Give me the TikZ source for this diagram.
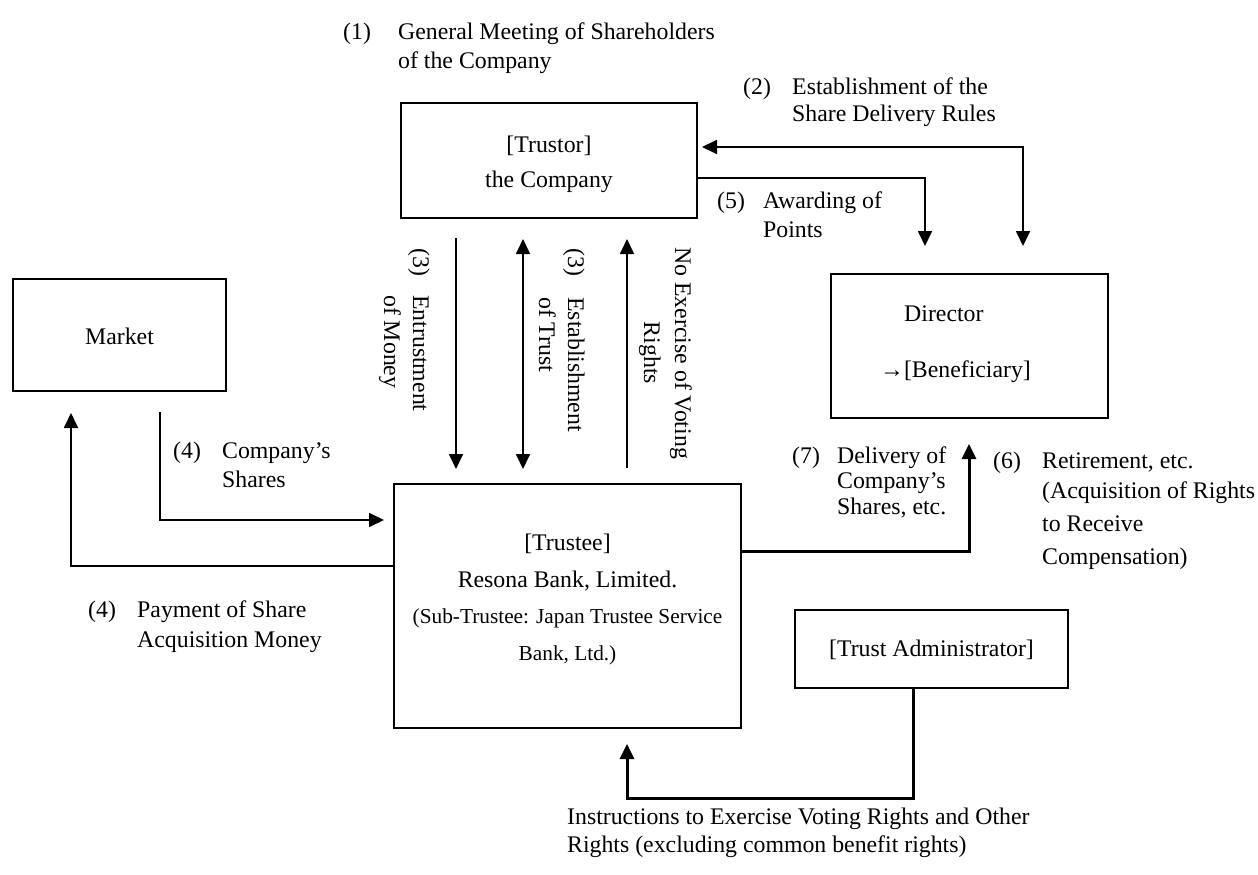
\documentclass[tikz,border=0pt]{standalone}
\usepackage{fontspec}
\setmainfont{Liberation Serif}
\usetikzlibrary{arrows.meta}
\begin{document}
\begin{tikzpicture}[x=1pt,y=-1pt,
  font=\fontsize{23.8}{28}\selectfont,
  box/.style={draw, line width=2pt, inner sep=0pt},
  txt/.style={inner sep=0pt, anchor=base west},
  ctxt/.style={inner sep=0pt, anchor=base},
  smalltxt/.style={inner sep=0pt, anchor=base, font=\fontsize{21.3}{25}\selectfont},
  tipA/.tip={Triangle[length=15pt,width=14pt]},
  conn/.style={line width=1.8pt},
  thickconn/.style={line width=3pt},
  endtip/.style={-tipA},
  bothtip/.style={tipA-tipA}
]
\useasboundingbox (0,0) rectangle (1258,875);

% boxes
\node[box, minimum width=296pt, minimum height=115pt] (trustor) at (549,160.5) {};
\node[box, minimum width=213pt, minimum height=112pt] (market) at (119.5,335) {};
\node[box, minimum width=277pt, minimum height=144pt] (director) at (969.5,346) {};
\node[box, minimum width=347pt, minimum height=244pt] (trustee) at (567.5,606) {};
\node[box, minimum width=273pt, minimum height=78pt] (admin) at (931.5,649) {};

% box texts
\node[ctxt] (trA) at (549,152) {[Trustor]};
\node[ctxt] (trB) at (549,187) {the Company};
\node[ctxt] (mk) at (119.5,344) {Market};
\node[txt] (dirA) at (904,321) {Director};
\node[txt] (dirB) at (880,377) {→[Beneficiary]};
\node[ctxt] (teA) at (567.5,550) {[Trustee]};
\node[ctxt] (teB) at (567.5,587) {Resona Bank, Limited.};
\node[smalltxt] (teC) at (567.5,623) {(Sub-Trustee: Japan Trustee Service};
\node[smalltxt] (teD) at (567.5,660) {Bank, Ltd.)};
\node[ctxt] (adm) at (931.5,656) {[Trust Administrator]};

% labels
\node[txt] (l1a) at (343,40) {(1)};
\node[txt] (l1b) at (398,40) {General Meeting of Shareholders};
\node[txt] (l1c) at (398,68) {of the Company};

\node[txt] (l2a) at (743,95) {(2)};
\node[txt] (l2b) at (792,95) {Establishment of the};
\node[txt] (l2c) at (792,121) {Share Delivery Rules};

\node[txt] (l5a) at (717,208) {(5)};
\node[txt] (l5b) at (763,208) {Awarding of};
\node[txt] (l5c) at (763,237) {Points};

\node[txt] (l4a) at (173,458) {(4)};
\node[txt] (l4b) at (222,458) {Company’s};
\node[txt] (l4c) at (222,487) {Shares};

\node[txt] (p4a) at (88,617) {(4)};
\node[txt] (p4b) at (137,617) {Payment of Share};
\node[txt] (p4c) at (137,647) {Acquisition Money};

\node[txt] (l7a) at (792,463) {(7)};
\node[txt] (l7b) at (837,463) {Delivery of};
\node[txt] (l7c) at (837,488) {Company’s};
\node[txt] (l7d) at (837,514) {Shares, etc.};

\node[txt] (l6a) at (993,468) {(6)};
\node[txt] (l6b) at (1042,468) {Retirement, etc.};
\node[txt] (l6c) at (1042,498) {(Acquisition of Rights};
\node[txt] (l6d) at (1042,531) {to Receive};
\node[txt] (l6e) at (1042,564) {Compensation)};

\node[txt] (insA) at (567,824) {Instructions to Exercise Voting Rights and Other};
\node[txt] (insB) at (567,852) {Rights (excluding common benefit rights)};

% rotated labels
\node[txt, rotate=-90] (r1a) at (413,248) {(3)};
\node[txt, rotate=-90] (r1b) at (413,295) {Entrustment};
\node[txt, rotate=-90] (r1c) at (384,295) {of Money};
\node[txt, rotate=-90] (r2a) at (568,248) {(3)};
\node[txt, rotate=-90] (r2b) at (568,297) {Establishment};
\node[txt, rotate=-90] (r2c) at (539,297) {of Trust};
\node[txt, rotate=-90] (r3a) at (675,247) {No Exercise of Voting};
\node[ctxt, rotate=-90] (r3b) at (644,353) {Rights};

% helper coordinates
\coordinate (c2) at (1023,147);
\coordinate (c5) at (925,178);
\coordinate (v1) at (456,0);
\coordinate (v2) at (523,0);
\coordinate (v3) at (627,0);
\coordinate (c4a) at (160,412);
\coordinate (c4b) at (160,520);
\coordinate (p4) at (71,566);
\coordinate (d7) at (969,551);
\coordinate (a1) at (913,798);
\coordinate (a2) at (627,798);

% connectors
\draw[conn, bothtip, shorten <=4pt, shorten >=27pt] (trustor.east |- c2) -- (c2) -- (c2 |- director.north);
\draw[conn, endtip, shorten >=27pt] (trustor.east |- c5) -- (c5) -- (c5 |- director.north);
\draw[conn, endtip, shorten <=19pt, shorten >=14pt] (v1 |- trustor.south) -- (v1 |- trustee.north);
\draw[conn, bothtip, shorten <=20pt, shorten >=14pt] (v2 |- trustor.south) -- (v2 |- trustee.north);
\draw[conn, endtip, shorten <=15pt, shorten >=20pt] (v3 |- trustee.north) -- (v3 |- trustor.south);
\draw[conn, endtip, shorten >=9pt] (c4a) -- (c4b) -- (trustee.west |- c4b);
\draw[conn, endtip, shorten >=21pt] (trustee.west |- p4) -- (p4) -- (p4 |- market.south);
\draw[thickconn, endtip, shorten >=25pt] (trustee.east |- d7) -- (d7) -- (d7 |- director.south);
\draw[thickconn, endtip, shorten >=15pt] (a1 |- admin.south) -- (a1) -- (a2) -- (a2 |- trustee.south);
\end{tikzpicture}
\end{document}
